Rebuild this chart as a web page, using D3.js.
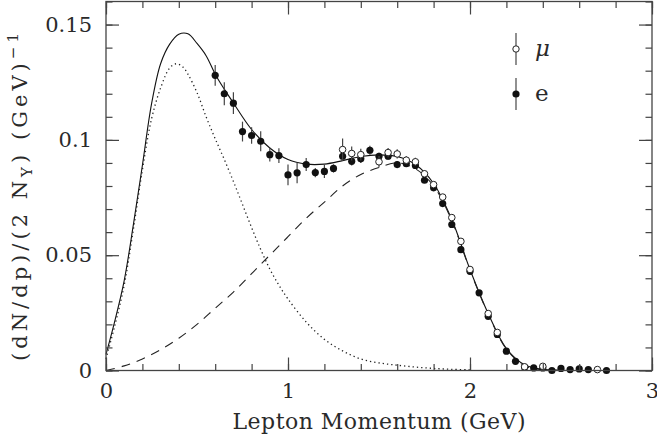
<!DOCTYPE html>
<html><head><meta charset="utf-8">
<script src="https://cdn.jsdelivr.net/npm/d3@7"></script>
<style>
html,body{margin:0;padding:0;background:#fff;}
</style></head>
<body><svg id="c" width="657" height="441"></svg>
<script>
// ---- data ----
const xTickValues = [0, 1, 2, 3];
const xTickLabels = ["0", "1", "2", "3"];
const yTickValues = [0, 0.05, 0.1, 0.15];
const yTickLabels = ["0", "0.05", "0.1", "0.15"];

const elecP = [0.60,0.65,0.70,0.75,0.80,0.85,0.90,0.95,1.00,1.05,1.10,1.15,1.20,1.25,1.30,1.35,1.40,1.45,1.50,1.55,1.60,1.65,1.70,1.75,1.80,1.85,1.90,1.95,2.00,2.05,2.10,2.15,2.20,2.25,2.30,2.35,2.40,2.45,2.50,2.55,2.60,2.65,2.75];
const elecV = [0.1280,0.1200,0.1159,0.1036,0.1019,0.0994,0.0936,0.0932,0.0848,0.0857,0.0893,0.0858,0.0863,0.0876,0.0929,0.0907,0.0918,0.0955,0.0929,0.0929,0.0893,0.0897,0.0889,0.0825,0.0792,0.0724,0.0633,0.0524,0.0430,0.0337,0.0235,0.0156,0.0084,0.0040,0.0014,0.0011,0.0011,0.0000,0.0009,0.0004,0.0007,0.0004,0.0000];
const elecErr = [0.0045,0.0050,0.0047,0.0043,0.0036,0.0043,0.0030,0.0032,0.0045,0.0045,0.0028,0.0020,0.0028,0.0018,0.0020,0.0018,0.0018,0.0020,0.0015,0.0015,0.0015,0.0015,0.0015,0.0012,0.0012,0.0010,0.0010,0.0010,0.0010,0.0010,0.0010,0.0010,0.0010,0.0008,0.0006,0.0006,0.0006,0.0005,0.0005,0.0005,0.0005,0.0005,0.0005];

const muP = [1.30,1.35,1.40,1.50,1.55,1.60,1.65,1.70,1.75,1.80,1.85,1.90,1.95,2.00,2.10,2.15,2.30,2.40,2.70];
const muV = [0.0958,0.0941,0.0936,0.0905,0.0945,0.0939,0.0912,0.0905,0.0853,0.0806,0.0752,0.0663,0.0560,0.0438,0.0247,0.0165,0.0016,0.0018,0.0004];
const muErr = [0.0048,0.0030,0.0025,0.0025,0.0020,0.0020,0.0018,0.0018,0.0015,0.0012,0.0012,0.0010,0.0010,0.0010,0.0010,0.0010,0.0008,0.0015,0.0006];

const totalP = [0,0.05,0.1,0.15,0.2,0.25,0.3,0.35,0.4,0.45,0.5,0.55,0.6,0.65,0.7,0.8,0.9,1.0,1.1,1.2,1.3,1.4,1.5,1.6,1.7,1.8,1.9,2.0,2.1,2.2,2.3,2.4,2.5,2.6,2.75];
const totalV = [0.007,0.022,0.039,0.063,0.089,0.1155,0.133,0.1415,0.1458,0.146,0.1418,0.1365,0.1285,0.122,0.116,0.1045,0.0965,0.0915,0.0895,0.0895,0.091,0.0928,0.0935,0.0928,0.0893,0.0811,0.0655,0.0438,0.0247,0.0095,0.0025,0.0005,0.0001,0,0];

const primP = [0,0.05,0.1,0.15,0.2,0.25,0.3,0.35,0.385,0.42,0.45,0.5,0.55,0.6,0.65,0.7,0.75,0.8,0.85,0.9,0.95,1.0,1.1,1.2,1.3,1.4,1.5,1.6,1.7,1.8,1.9,2.0];
const primV = [0.005,0.020,0.037,0.061,0.087,0.109,0.1225,0.1312,0.1330,0.1318,0.1285,0.1205,0.110,0.1005,0.0915,0.082,0.072,0.062,0.0525,0.044,0.037,0.031,0.021,0.0135,0.0085,0.005,0.0033,0.0023,0.0015,0.0009,0.0005,0.0003];

const secP = [0,0.1,0.2,0.3,0.4,0.5,0.6,0.7,0.8,0.9,1.0,1.1,1.2,1.3,1.4,1.5,1.6,1.7,1.8,1.9,2.0,2.1,2.2,2.3,2.4,2.5];
const secV = [0,0.002,0.005,0.009,0.014,0.020,0.027,0.034,0.042,0.050,0.058,0.066,0.073,0.080,0.085,0.088,0.090,0.0875,0.080,0.065,0.0435,0.0245,0.0093,0.002,0.0003,0];

const legendLabels = ["\u03BC", "e"];

// ---- drawing ----
const FONT = "DejaVu Serif";
const svg = d3.select("#c");
const L = 106, R = 652, T = 1.5, B = 370.5;
const x = d3.scaleLinear().domain([0, 3]).range([L, R]);
const y = d3.scaleLinear().domain([0, 0.16]).range([B, T]);
const ink = "#2a2a2a";

// curves
const line = (P, V) => d3.line().x((d, i) => x(P[i])).y((d, i) => y(V[i])).curve(d3.curveCatmullRom.alpha(0.5))(P);
svg.append("path").attr("d", line(totalP, totalV)).attr("fill", "none").attr("stroke", "#111").attr("stroke-width", 1.1);
svg.append("path").attr("d", line(primP, primV)).attr("fill", "none").attr("stroke", "#222").attr("stroke-width", 1.3).attr("stroke-dasharray", "1.3,3");
svg.append("path").attr("d", line(secP, secV)).attr("fill", "none").attr("stroke", "#222").attr("stroke-width", 1.1).attr("stroke-dasharray", "9,7");

// error bars + markers
function drawSeries(P, V, E, filled) {
  const g = svg.append("g");
  g.selectAll("line").data(P).join("line")
    .attr("x1", d => x(d)).attr("x2", d => x(d))
    .attr("y1", (d, i) => y(V[i] - E[i])).attr("y2", (d, i) => y(V[i] + E[i]))
    .attr("stroke", "#444").attr("stroke-width", 1.2);
  g.selectAll("circle").data(P).join("circle")
    .attr("cx", d => x(d)).attr("cy", (d, i) => y(V[i]))
    .attr("r", filled ? 3.6 : 3.3)
    .attr("fill", filled ? "#111" : "#fff")
    .attr("stroke", filled ? "none" : "#222").attr("stroke-width", 1);
}
drawSeries(elecP, elecV, elecErr, true);
drawSeries(muP, muV, muErr, false);

// frame
svg.append("rect").attr("x", L).attr("y", T).attr("width", R - L).attr("height", B - T)
  .attr("fill", "none").attr("stroke", "#444").attr("stroke-width", 1.3);

// axes
const xMinor = d3.range(0, 3.001, 0.2);
const yMinor = d3.range(0, 0.1601, 0.01);
function styleAxis(g) {
  g.select(".domain").remove();
  g.selectAll(".tick line").attr("stroke", "#444").attr("stroke-width", 1.2);
}
svg.append("g").attr("transform", `translate(0,${B})`)
  .call(d3.axisBottom(x).tickValues(xMinor).tickSizeInner(-6.5).tickSizeOuter(0).tickFormat(""))
  .call(styleAxis);
svg.append("g").attr("transform", `translate(0,${T})`)
  .call(d3.axisTop(x).tickValues(xMinor).tickSizeInner(-6.5).tickSizeOuter(0).tickFormat(""))
  .call(styleAxis);
svg.append("g").attr("transform", `translate(${L},0)`)
  .call(d3.axisLeft(y).tickValues(yMinor).tickSizeInner(-6.5).tickSizeOuter(0).tickFormat(""))
  .call(styleAxis);
svg.append("g").attr("transform", `translate(${R},0)`)
  .call(d3.axisRight(y).tickValues(yMinor).tickSizeInner(-6.5).tickSizeOuter(0).tickFormat(""))
  .call(styleAxis);

const xa = svg.append("g").attr("transform", `translate(0,${B})`)
  .call(d3.axisBottom(x).tickValues(xTickValues).tickFormat((d, i) => xTickLabels[i]).tickSizeInner(-13).tickSizeOuter(0).tickPadding(13))
  .call(styleAxis);
const ya = svg.append("g").attr("transform", `translate(${L},0)`)
  .call(d3.axisLeft(y).tickValues(yTickValues).tickFormat((d, i) => yTickLabels[i]).tickSizeInner(-13).tickSizeOuter(0).tickPadding(14))
  .call(styleAxis);
svg.append("g").attr("transform", `translate(0,${T})`)
  .call(d3.axisTop(x).tickValues(xTickValues).tickSizeInner(-13).tickSizeOuter(0).tickFormat("")).call(styleAxis);
svg.append("g").attr("transform", `translate(${R},0)`)
  .call(d3.axisRight(y).tickValues(yTickValues).tickSizeInner(-13).tickSizeOuter(0).tickFormat("")).call(styleAxis);

[xa, ya].forEach(g => { g.attr("font-family", FONT).attr("font-size", 21);
  g.selectAll("text").attr("fill", ink).attr("font-weight", 300); });

// axis titles
svg.append("text").attr("x", (L + R) / 2).attr("y", 429).attr("text-anchor", "middle")
  .attr("font-family", FONT).attr("font-size", 22).attr("fill", ink)
  .attr("textLength", 293).attr("lengthAdjust", "spacing")
  .text("Lepton Momentum (GeV)");

const yt = svg.append("text").attr("transform", "translate(27,197) rotate(-90)")
  .attr("text-anchor", "middle").attr("font-family", FONT).attr("font-size", 21).attr("fill", ink);
yt.append("tspan").text("(dN/dp)/(2 N");
yt.append("tspan").attr("dy", 5).attr("font-size", 15).text("\u03A5");
yt.append("tspan").attr("dy", -5).text(") (GeV)");
yt.append("tspan").attr("dy", -9).attr("font-size", 15).text("\u22121");
yt.attr("textLength", 328).attr("lengthAdjust", "spacing");

// legend
const legY = [49, 94];
legendLabels.forEach((lab, i) => {
  const cy = legY[i];
  svg.append("line").attr("x1", 516).attr("x2", 516).attr("y1", cy - 16).attr("y2", cy + 16)
    .attr("stroke", "#555").attr("stroke-width", 1.3);
  svg.append("circle").attr("cx", 516).attr("cy", cy).attr("r", i === 0 ? 3.2 : 3.6)
    .attr("fill", i === 0 ? "#fff" : "#111").attr("stroke", i === 0 ? "#222" : "none");
  svg.append("text").attr("x", 535).attr("y", cy + 7).attr("font-family", FONT).attr("font-size", 23)
    .attr("fill", ink).attr("font-style", i === 0 ? "italic" : "normal").text(lab);
});
</script></body></html>
